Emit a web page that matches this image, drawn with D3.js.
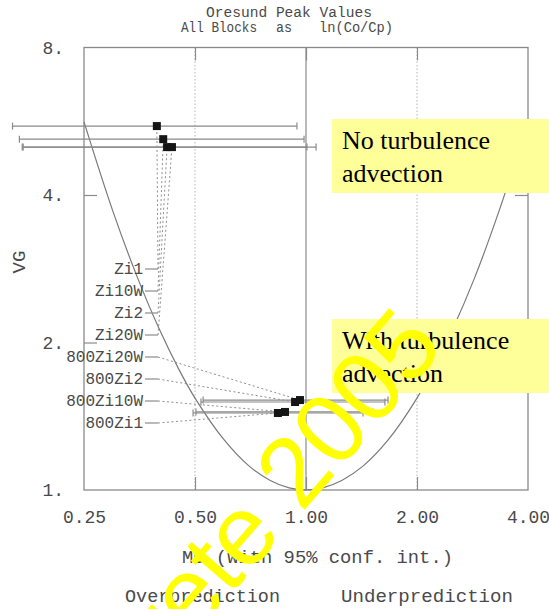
<!DOCTYPE html>
<html><head><meta charset="utf-8">
<script src="https://cdn.jsdelivr.net/npm/d3@7"></script>
<style>body{margin:0;background:#fff}svg{display:block}</style>
</head><body><svg id="c" width="549" height="609"></svg>
<script>
// ---- data ----
const xTicks = [0.25, 0.5, 1, 2, 4];
const xTickLabels = ["0.25", "0.50", "1.00", "2.00", "4.00"];
const yTicks = [1, 2, 4, 8];
const yTickLabels = ["1.", "2.", "4.", "8."];

const names = ["Zi1", "Zi10W", "Zi2", "Zi20W", "800Zi20W", "800Zi2", "800Zi10W", "800Zi1"];
const mgValues = [0.394, 0.410, 0.420, 0.433, 0.963, 0.934, 0.877, 0.839];
const vgValues = [5.53, 5.20, 5.01, 5.01, 1.526, 1.512, 1.443, 1.436];
const mgLow = [0.160, 0.167, 0.170, 0.171, 0.526, 0.519, 0.503, 0.494];
const mgHigh = [0.945, 0.988, 1.006, 1.065, 1.669, 1.637, 1.520, 1.428];

// minimum-VG curve, points
const curveMG = [0.25, 0.30, 0.35, 0.40, 0.45, 0.50, 0.60, 0.70, 0.80, 0.90, 1.00,
                 1.11, 1.25, 1.43, 1.67, 2.00, 2.22, 2.50, 2.86, 3.33, 4.00];
const curveVG = [5.64, 3.69, 2.70, 2.13, 1.775, 1.54, 1.265, 1.12, 1.046, 1.01, 1.00,
                 1.01, 1.046, 1.12, 1.265, 1.54, 1.775, 2.13, 2.70, 3.69, 5.64];

const boxTexts = [["No turbulence", "advection"], ["With turbulence", "advection"]];
const watermark = "Concrete 2005";

// ---- drawing ----
const svg = d3.select("#c");
svg.append("rect").attr("width", 549).attr("height", 609).attr("fill", "#fff");

const L = 84, R = 528, T = 47.5, B = 490;
const x = d3.scaleLog().domain([0.25, 4]).range([L, R]);
const y = d3.scaleLog().domain([1, 8]).range([B, T]);

const lineCol = "#8a8a8a", textCol = "#4a4a4a";
const mono = "'Liberation Mono', 'DejaVu Sans Mono', monospace";

// dotted gridlines at 0.5 and 2, solid at 1
[0.5, 2].forEach(v => {
  svg.append("line").attr("x1", x(v)).attr("x2", x(v)).attr("y1", T).attr("y2", B)
    .attr("stroke", "#b5b5b5").attr("stroke-width", 1).attr("stroke-dasharray", "1.5,2");
});
svg.append("line").attr("x1", x(1)).attr("x2", x(1)).attr("y1", T).attr("y2", B)
  .attr("stroke", lineCol).attr("stroke-width", 1.2);

// frame
svg.append("rect").attr("x", L).attr("y", T).attr("width", R - L).attr("height", B - T)
  .attr("fill", "none").attr("stroke", lineCol).attr("stroke-width", 1.3);

// inward tick marks via axes
function styleTicks(g) {
  g.select(".domain").remove();
  g.selectAll(".tick line").attr("stroke", lineCol).attr("stroke-width", 1.2);
}
svg.append("g").attr("transform", `translate(0,${B})`)
  .call(d3.axisBottom(x).tickValues([0.5, 1, 2]).tickSize(-13).tickFormat("")).call(styleTicks);
svg.append("g").attr("transform", `translate(0,${T})`)
  .call(d3.axisTop(x).tickValues([0.5, 1, 2]).tickSize(-13).tickFormat("")).call(styleTicks);
svg.append("g").attr("transform", `translate(${L},0)`)
  .call(d3.axisLeft(y).tickValues([2, 4]).tickSize(-13).tickFormat("")).call(styleTicks);
svg.append("g").attr("transform", `translate(${R},0)`)
  .call(d3.axisRight(y).tickValues([2, 4]).tickSize(-13).tickFormat("")).call(styleTicks);

// tick labels via axes
const gx = svg.append("g").attr("transform", `translate(0,${B})`)
  .call(d3.axisBottom(x).tickValues(xTicks).tickSize(0).tickPadding(20)
    .tickFormat((d, i) => xTickLabels[i]));
gx.select(".domain").remove();
gx.selectAll("text").attr("font-family", mono).attr("font-size", 18).attr("fill", textCol);

const gy = svg.append("g").attr("transform", `translate(${L},0)`)
  .call(d3.axisLeft(y).tickValues(yTicks).tickSize(0).tickPadding(20)
    .tickFormat((d, i) => yTickLabels[i]));
gy.select(".domain").remove();
gy.selectAll("text").attr("font-family", mono).attr("font-size", 18).attr("fill", textCol);

// curve
const curveData = curveMG.map((m, i) => [m, curveVG[i]]);
svg.append("path").datum(curveData)
  .attr("d", d3.line().x(d => x(d[0])).y(d => y(d[1])).curve(d3.curveCatmullRom.alpha(0.5)))
  .attr("fill", "none").attr("stroke", "#7a7a7a").attr("stroke-width", 1.2);

// error bars
names.forEach((n, i) => {
  const yy = y(vgValues[i]);
  svg.append("line").attr("x1", x(mgLow[i])).attr("x2", x(mgHigh[i])).attr("y1", yy).attr("y2", yy)
    .attr("stroke", lineCol).attr("stroke-width", 1.2);
  [mgLow[i], mgHigh[i]].forEach(v => {
    svg.append("line").attr("x1", x(v)).attr("x2", x(v)).attr("y1", yy - 3.5).attr("y2", yy + 3.5)
      .attr("stroke", lineCol).attr("stroke-width", 1.2);
  });
});

// labels with leader lines
const labX = 143, leadEnd = 158, lab0 = 269, labStep = 22;
names.forEach((n, i) => {
  const ly = lab0 + labStep * i;
  svg.append("text").attr("x", labX).attr("y", ly + 5).attr("text-anchor", "end")
    .attr("font-family", mono).attr("font-size", 16).attr("fill", textCol).text(n);
  svg.append("line").attr("x1", labX + 2).attr("x2", leadEnd).attr("y1", ly).attr("y2", ly)
    .attr("stroke", lineCol).attr("stroke-width", 1.2);
  svg.append("line").attr("x1", leadEnd).attr("y1", ly)
    .attr("x2", x(mgValues[i])).attr("y2", y(vgValues[i]))
    .attr("stroke", "#8f8f8f").attr("stroke-width", 1).attr("stroke-dasharray", "2,2.5");
});

// points
names.forEach((n, i) => {
  svg.append("rect").attr("x", x(mgValues[i]) - 4).attr("y", y(vgValues[i]) - 4)
    .attr("width", 8).attr("height", 8).attr("fill", "#151515");
});

// titles
const t1 = svg.append("g").attr("font-family", mono).attr("fill", textCol).attr("font-size", 14);
t1.append("text").attr("x", 206).attr("y", 16.5).attr("textLength", 166).attr("lengthAdjust", "spacingAndGlyphs").text("Oresund Peak Values");
t1.append("text").attr("x", 181).attr("y", 32).attr("textLength", 76).attr("lengthAdjust", "spacingAndGlyphs").text("All Blocks");
t1.append("text").attr("x", 276).attr("y", 32).attr("textLength", 16).attr("lengthAdjust", "spacingAndGlyphs").text("as");
t1.append("text").attr("x", 319).attr("y", 32).attr("textLength", 74).attr("lengthAdjust", "spacingAndGlyphs").text("ln(Co/Cp)");

// axis titles
svg.append("text").attr("x", 182).attr("y", 563).attr("textLength", 271).attr("lengthAdjust", "spacingAndGlyphs")
  .attr("font-family", mono).attr("font-size", 19).attr("fill", textCol).text("MG (with 95% conf. int.)");
svg.append("text").attr("transform", "translate(25,262) rotate(-90)").attr("text-anchor", "middle")
  .attr("font-family", mono).attr("font-size", 19).attr("fill", textCol).text("VG");
svg.append("text").attr("x", 125).attr("y", 602).attr("textLength", 155).attr("lengthAdjust", "spacingAndGlyphs")
  .attr("font-family", mono).attr("font-size", 19).attr("fill", textCol).text("Overprediction");
svg.append("text").attr("x", 341).attr("y", 602).attr("textLength", 172).attr("lengthAdjust", "spacingAndGlyphs")
  .attr("font-family", mono).attr("font-size", 19).attr("fill", textCol).text("Underprediction");

// yellow annotation boxes
const boxTops = [119, 319];
boxTexts.forEach((lines, i) => {
  svg.append("rect").attr("x", 332).attr("y", boxTops[i]).attr("width", 217).attr("height", 74)
    .attr("fill", "#ffff99");
  lines.forEach((s, j) => {
    svg.append("text").attr("x", 342).attr("y", boxTops[i] + 30 + 33 * j)
      .attr("font-family", "'Liberation Serif', 'Times New Roman', serif").attr("font-size", 26)
      .attr("fill", "#000").text(s);
  });
});

// watermark
svg.append("text").attr("transform", "translate(446,347) rotate(-49)").attr("text-anchor", "end")
  .attr("font-family", "'Liberation Sans', Arial, sans-serif").attr("font-size", 99)
  .attr("fill", "#ffff00").text(watermark);
</script></body></html>
